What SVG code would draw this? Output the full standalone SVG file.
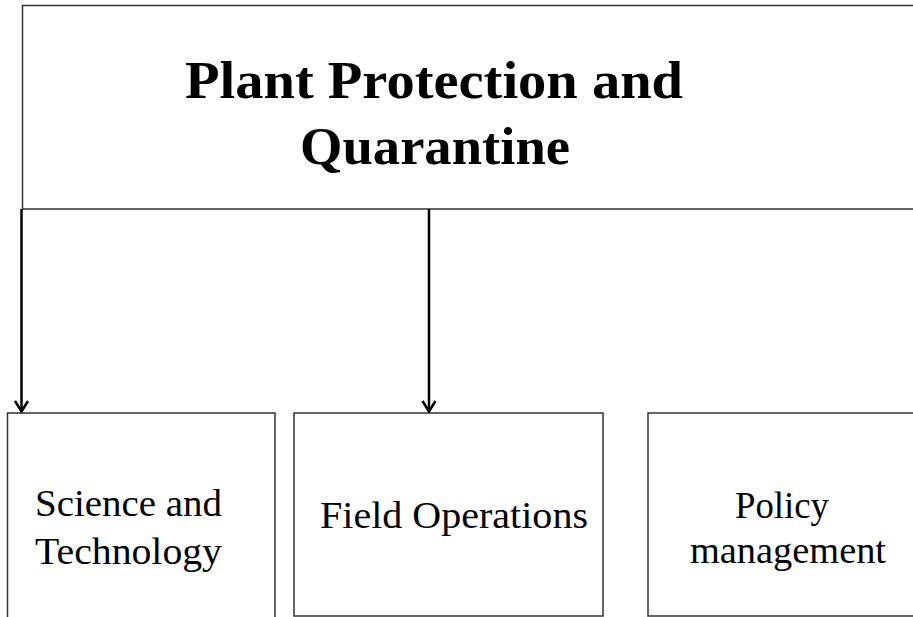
<svg xmlns="http://www.w3.org/2000/svg" width="913" height="617" viewBox="0 0 913 617">
<style>
.box{fill:#fff;stroke:#333;stroke-width:1.5}
.title{font-family:"Liberation Serif","Times New Roman",serif;font-weight:bold;font-size:52px;fill:#000}
.lbl{font-family:"Liberation Serif","Times New Roman",serif;font-size:38px;fill:#000}
.conn{stroke:#000;stroke-width:2.5;fill:none;marker-end:url(#arr)}
</style>
<defs>
<marker id="arr" viewBox="0 0 14 16" refX="13" refY="8" markerWidth="14" markerHeight="16" markerUnits="userSpaceOnUse" orient="auto">
<path d="M2,1.5 L12.5,8 L2,14.5" fill="none" stroke="#000" stroke-width="2.5"/>
</marker>
</defs>
<rect width="913" height="617" fill="#fff"/>
<g id="node-top">
<path class="box" d="M914,5.5 H22.5 V209 H914"/>
<text class="title" x="185" y="98" textLength="498" lengthAdjust="spacingAndGlyphs">Plant Protection and</text>
<text class="title" x="300" y="164" textLength="270" lengthAdjust="spacingAndGlyphs">Quarantine</text>
</g>
<g id="node-science">
<path class="box" d="M7.5,620 V413 H275 V620"/>
<text class="lbl" x="35" y="516" textLength="187" lengthAdjust="spacingAndGlyphs">Science and</text>
<text class="lbl" x="35" y="564" textLength="187" lengthAdjust="spacingAndGlyphs">Technology</text>
</g>
<g id="node-field">
<rect class="box" x="294" y="413" width="309" height="203"/>
<text class="lbl" x="320" y="528" textLength="268" lengthAdjust="spacingAndGlyphs">Field Operations</text>
</g>
<g id="node-policy">
<path class="box" d="M914,616 H648 V413 H914"/>
<text class="lbl" x="735" y="518" textLength="94" lengthAdjust="spacingAndGlyphs">Policy</text>
<text class="lbl" x="690" y="563" textLength="196" lengthAdjust="spacingAndGlyphs">management</text>
</g>
<g id="connectors">
<line class="conn" x1="21.5" y1="209" x2="21.5" y2="412"/>
<line class="conn" x1="429" y1="209" x2="429" y2="412"/>
</g>
</svg>
